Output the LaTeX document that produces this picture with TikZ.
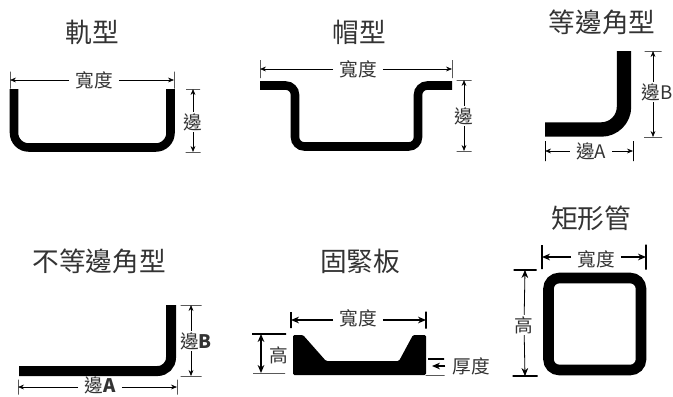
\documentclass[tikz,border=0pt]{standalone}
\usepackage{fontspec}
\setmainfont{Noto Sans CJK TC}
\usepackage{tikz}
\usetikzlibrary{arrows.meta}
\definecolor{inkgray}{HTML}{333333}
\tikzstyle{titletext} = [text=inkgray, font=\fontsize{20}{22}\selectfont, inner sep=0pt]
\tikzstyle{dimtext} = [text=inkgray, font=\fontsize{14}{16}\selectfont, inner xsep=4.5pt, inner ysep=1pt]
\tikzstyle{arrow} = [line width=0.5pt,->,>={Stealth[length=4.5pt,width=3.6pt]}]
\tikzstyle{heavyarrow} = [line width=0.9pt,->,>={Stealth[length=6pt,width=5pt]}]
\tikzstyle{section} = [line width=6.4pt, rounded corners=9pt]
\tikzset{
  vtick/.style={draw, line width=0.6pt, inner sep=0pt, outer sep=0pt, minimum width=0pt, minimum height=#1*0.75pt},
  htick/.style={draw, line width=0.6pt, inner sep=0pt, outer sep=0pt, minimum height=0pt, minimum width=#1*0.75pt}
}

\begin{document}
\begin{tikzpicture}[x=0.75pt, y=-0.75pt]
\useasboundingbox (0,0) rectangle (673,396);

% rail
\node (railTitle) [titletext] at (92,32) {軌型};
\draw [section, rounded corners=11pt] (14,89) -- (14,147.5) -- (170.5,147.5) -- (170.5,89);
\node (railWidth) [dimtext] at (94,80) {寬度};
\node (railLeft) [vtick=17] at (10,80) {};
\node (railRight) [vtick=17] at (174,80) {};
\node (railSide) [dimtext] at (193,122) {邊};
\node (railTop) [htick=14] at (193,89) {};
\node (railBottom) [htick=15] at (193,152) {};
\draw [arrow] (railWidth) -- (railLeft);
\draw [arrow] (railWidth) -- (railRight);
\draw [arrow] (railSide) -- (railTop);
\draw [arrow] (railSide) -- (railBottom);

% hat
\node (hatTitle) [titletext] at (359,32) {帽型};
\draw [section, rounded corners=7pt] (260,85.5) -- (295,85.5) -- (295,146.5) -- (418,146.5) -- (418,85.5) -- (452,85.5);
\node (hatWidth) [dimtext] at (358,69) {寬度};
\node (hatLeft) [vtick=18] at (260,69) {};
\node (hatRight) [vtick=18] at (452,69) {};
\node (hatSide) [dimtext] at (464,116) {邊};
\node (hatTop) [htick=15] at (464,80) {};
\node (hatBottom) [htick=15] at (464,151) {};
\draw [arrow] (hatWidth) -- (hatLeft);
\draw [arrow] (hatWidth) -- (hatRight);
\draw [arrow] (hatSide) -- (hatTop);
\draw [arrow] (hatSide) -- (hatBottom);

% equal angle
\node (equalTitle) [titletext] at (602,22) {等邊角型};
\draw [section, line width=10.8pt, rounded corners=17pt] (624,51) -- (624,129.5) -- (545,129.5);
\node (equalSideA) [dimtext] at (591,151) {邊A};
\node (equalLeft) [vtick=20] at (545,151) {};
\node (equalRight) [vtick=20] at (633,151) {};
\node (equalSideB) [dimtext, inner xsep=0pt] at (657,92) {邊B};
\node (equalTop) [htick=17] at (653,51) {};
\node (equalBottom) [htick=18] at (653,137) {};
\draw [arrow] (equalSideA) -- (equalLeft);
\draw [arrow] (equalSideA) -- (equalRight);
\draw [arrow] (equalSideB.north -| equalTop) -- (equalTop);
\draw [arrow] (equalSideB.south -| equalBottom) -- (equalBottom);

% unequal angle
\node (unequalTitle) [titletext] at (99,261) {不等邊角型};
\draw [section, line width=7.5pt, rounded corners=10pt] (171,305) -- (171,371) -- (19,371);
\node (unequalSideA) [dimtext, inner ysep=0pt] at (100,385) {邊\textbf{A}};
\node (unequalLeft) [vtick=15] at (18,387) {};
\node (unequalRight) [vtick=15] at (177,387) {};
\node (unequalSideB) [dimtext, inner xsep=0pt] at (196,341) {邊\textbf{B}};
\node (unequalTop) [htick=21] at (191,305) {};
\node (unequalBottom) [htick=21] at (191,376) {};
\draw [arrow] (unequalSideA.west |- unequalLeft) -- (unequalLeft);
\draw [arrow] (unequalSideA.east |- unequalRight) -- (unequalRight);
\draw [arrow] (unequalSideB.north -| unequalTop) -- (unequalTop);
\draw [arrow] (unequalSideB.south -| unequalBottom) -- (unequalBottom);

% clamp plate
\node (plateTitle) [titletext] at (360,261) {固緊板};
\fill [rounded corners=1pt] (293,375) -- (293,335) -- (303,335) -- (326,361) -- (399,361) -- (413,335) -- (426,335) -- (426,375) -- cycle;
\node (plateWidth) [dimtext] at (358,318) {寬度};
\node (plateLeft) [vtick=16, line width=1pt] at (291,320) {};
\node (plateRight) [vtick=17, line width=1pt] at (426,320) {};
\node (plateHigh) [dimtext, inner xsep=0pt] at (279,355) {高};
\node (plateTop) [htick=34, line width=1pt] at (269,334) {};
\node (plateBottom) [htick=32] at (269,373) {};
\coordinate (plateHighLine) at (261,354);
\node (plateThick) [dimtext, inner xsep=5pt] at (471,366) {厚度};
\node (plateUpper) [htick=16, line width=1pt] at (436,359) {};
\node (plateLower) [htick=19] at (435,375) {};
\coordinate (plateThickEnd) at (432,366);
\draw [heavyarrow] (plateWidth.west |- plateLeft) -- (plateLeft);
\draw [heavyarrow] (plateWidth.east |- plateRight) -- (plateRight);
\draw [heavyarrow, <->] (plateHighLine |- plateTop) -- (plateHighLine |- plateBottom);
\draw [heavyarrow] (plateThick) -- (plateThickEnd);

% rectangular tube
\node (tubeTitle) [titletext] at (591,218) {矩形管};
\draw [line width=7.9pt, rounded corners=8pt] (548.5,278) rectangle (641,370);
\node (tubeWidth) [dimtext] at (596,259) {寬度};
\node (tubeLeft) [vtick=24, line width=1pt] at (542,257) {};
\node (tubeRight) [vtick=25, line width=1pt] at (646,257) {};
\node (tubeHigh) [dimtext] at (524,325) {高};
\node (tubeTop) [htick=23, line width=1pt] at (525,270) {};
\node (tubeBottom) [htick=25, line width=1pt] at (525,376) {};
\draw [heavyarrow] (tubeWidth.west |- tubeLeft) -- (tubeLeft);
\draw [heavyarrow] (tubeWidth.east |- tubeRight) -- (tubeRight);
\draw [heavyarrow, line width=0.6pt] (tubeHigh) -- (tubeTop);
\draw [heavyarrow, line width=0.6pt] (tubeHigh) -- (tubeBottom);

\end{tikzpicture}
\end{document}
